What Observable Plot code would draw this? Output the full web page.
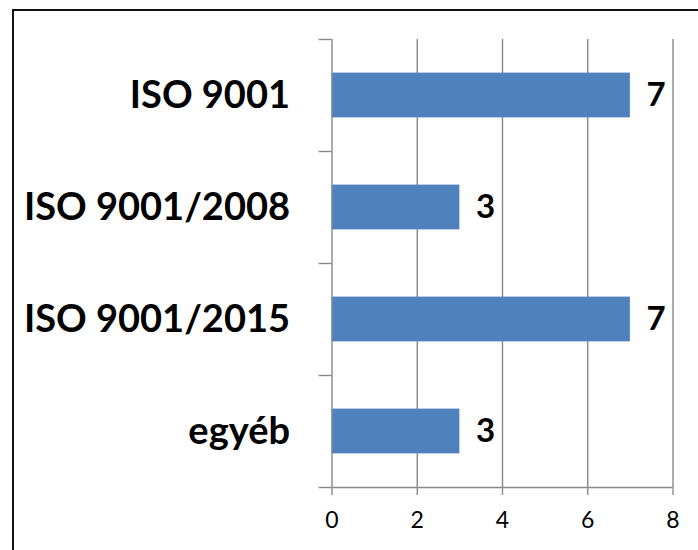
<!DOCTYPE html>
<html>
<head>
<meta charset="utf-8">
<script src="https://cdn.jsdelivr.net/npm/d3@7"></script>
<script src="https://cdn.jsdelivr.net/npm/@observablehq/plot@0.6"></script>
<style>
  html, body { margin: 0; padding: 0; background: #fff; overflow: hidden; }
  #wrap { position: relative; width: 698px; height: 550px; }
  #frame { position: absolute; left: 12px; top: 9px; width: 800px; height: 800px;
           border-left: 2px solid #111; border-top: 2px solid #111; pointer-events: none; }
</style>
</head>
<body>
<div id="wrap"><div id="frame"></div></div>
<script>
const categories = ["ISO 9001", "ISO 9001/2008", "ISO 9001/2015", "egyéb"];
const values = [7, 3, 7, 3];
const xTicks = [0, 2, 4, 6, 8];
const gridTicks = [2, 4, 6, 8];

const data = categories.map((c, i) => ({category: c, value: values[i], idx: i}));
const boundaries = d3.range(categories.length + 1);
const gray = "#898989";

const plot = Plot.plot({
  width: 698,
  height: 550,
  marginLeft: 331.5,
  marginRight: 25.5,
  marginTop: 39,
  marginBottom: 63,
  style: {fontFamily: "Lato, sans-serif", fontSize: "23px", color: "#000", background: "transparent"},
  x: {domain: [0, 8]},
  y: {domain: [0, categories.length], reverse: true},
  marks: [
    Plot.ruleX(gridTicks, {x: d => d, y1: 0, y2: categories.length, stroke: gray, strokeWidth: 1.4}),
    Plot.rectX(data, {x1: 0, x2: "value", y1: d => d.idx + 0.3, y2: d => d.idx + 0.7, fill: "#4F81BD"}),
    Plot.ruleX([0], {y1: 0, y2: categories.length, stroke: gray, strokeWidth: 1.4}),
    Plot.ruleY([categories.length], {x1: 0, x2: 8, stroke: gray, strokeWidth: 1.4}),
    Plot.axisY({ticks: boundaries, tickSize: 13, tickFormat: () => "", stroke: gray, strokeWidth: 1.4, label: null}),
    Plot.axisX({ticks: xTicks, tickSize: 8, tickPadding: 16, stroke: gray, strokeWidth: 1.4, label: null, fontSize: 23, fill: "#000"}),
    Plot.text(data, {x: 0, y: d => d.idx + 0.5, text: "category", dx: -42, textAnchor: "end",
      fontSize: 38, fontWeight: "bold", fill: "#000"}),
    Plot.text(data, {x: "value", y: d => d.idx + 0.5, text: d => String(d.value), dx: 16, textAnchor: "start",
      fontSize: 33, fontWeight: "bold", fill: "#000"})
  ]
});
document.getElementById("wrap").prepend(plot);
</script>
</body>
</html>
